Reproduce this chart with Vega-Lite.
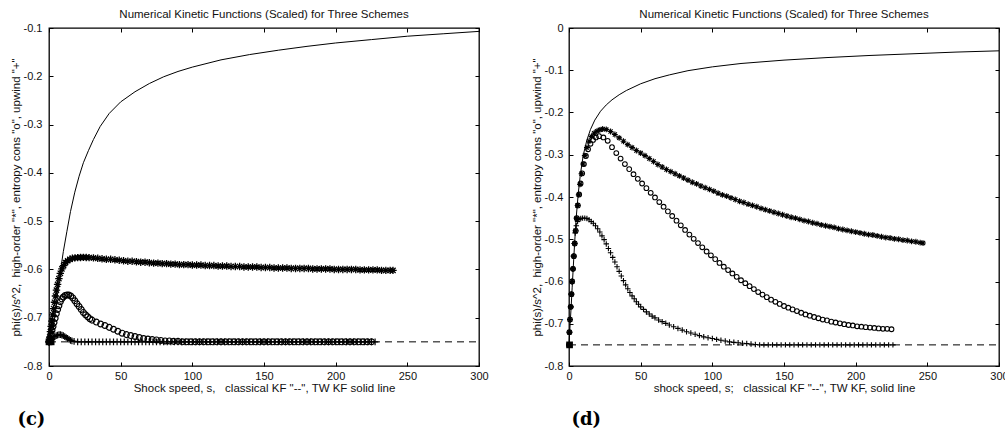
{
"$schema": "https://vega.github.io/schema/vega-lite/v6.json",
"padding": {"left": 9, "top": 7, "right": 0, "bottom": 0},
"spacing": 41,
"datasets": {
"cDash": [{"s":0,"y":-0.75},{"s":300,"y":-0.75}],
"cTw": [{"s":0,"y":-0.75},{"s":1.5,"y":-0.745},{"s":3,"y":-0.722},{"s":4.5,"y":-0.688},{"s":6,"y":-0.65},{"s":8,"y":-0.603},{"s":10,"y":-0.563},{"s":12.5,"y":-0.521},{"s":15,"y":-0.48},{"s":18,"y":-0.44},{"s":21,"y":-0.407},{"s":24,"y":-0.379},{"s":27.5,"y":-0.354},{"s":31,"y":-0.331},{"s":35.7,"y":-0.304},{"s":42,"y":-0.277},{"s":50,"y":-0.253},{"s":60,"y":-0.232},{"s":70,"y":-0.215},{"s":80,"y":-0.201},{"s":90,"y":-0.19},{"s":100,"y":-0.181},{"s":120,"y":-0.166},{"s":140,"y":-0.155},{"s":160,"y":-0.146},{"s":180,"y":-0.138},{"s":200,"y":-0.131},{"s":225,"y":-0.124},{"s":250,"y":-0.117},{"s":275,"y":-0.112},{"s":300,"y":-0.107}],
"cA": [{"s":0,"y":-0.75},{"s":0.5,"y":-0.74},{"s":1,"y":-0.729},{"s":1.5,"y":-0.718},{"s":2,"y":-0.707},{"s":2.6,"y":-0.694},{"s":3.2,"y":-0.681},{"s":3.8,"y":-0.668},{"s":4.5,"y":-0.655},{"s":5.2,"y":-0.643},{"s":6,"y":-0.631},{"s":6.9,"y":-0.619},{"s":7.9,"y":-0.608},{"s":9,"y":-0.599},{"s":10.2,"y":-0.592},{"s":11.5,"y":-0.586},{"s":13,"y":-0.582},{"s":14.6,"y":-0.579},{"s":16.3,"y":-0.577},{"s":18.1,"y":-0.576},{"s":20,"y":-0.5755},{"s":22,"y":-0.5752},{"s":24,"y":-0.575},{"s":26,"y":-0.5752},{"s":28,"y":-0.5756},
{"s":31,"y":-0.576},{"s":34,"y":-0.577},{"s":37,"y":-0.578},{"s":40,"y":-0.579},{"s":43,"y":-0.579},{"s":46,"y":-0.58},{"s":49,"y":-0.581},{"s":52,"y":-0.582},{"s":55,"y":-0.583},{"s":58,"y":-0.583},{"s":61,"y":-0.584},{"s":64,"y":-0.585},{"s":67,"y":-0.585},{"s":70,"y":-0.586},{"s":73,"y":-0.587},{"s":76,"y":-0.587},{"s":79,"y":-0.588},{"s":82,"y":-0.588},{"s":85,"y":-0.589},{"s":88,"y":-0.589},{"s":91,"y":-0.59},{"s":94,"y":-0.59},{"s":97,"y":-0.59},{"s":100,"y":-0.591},{"s":103,"y":-0.591},{"s":106,"y":-0.591},{"s":109,"y":-0.592},{"s":112,"y":-0.592},{"s":115,"y":-0.592},{"s":118,"y":-0.593},{"s":121,"y":-0.593},{"s":124,"y":-0.593},{"s":127,"y":-0.594},{"s":130,"y":-0.594},{"s":133,"y":-0.594},{"s":136,"y":-0.595},{"s":139,"y":-0.595},{"s":142,"y":-0.595},{"s":145,"y":-0.595},{"s":148,"y":-0.596},{"s":151,"y":-0.596},{"s":154,"y":-0.596},{"s":157,"y":-0.597},{"s":160,"y":-0.597},{"s":163,"y":-0.597},{"s":166,"y":-0.597},{"s":169,"y":-0.598},{"s":172,"y":-0.598},{"s":175,"y":-0.598},{"s":178,"y":-0.598},{"s":181,"y":-0.598},{"s":184,"y":-0.599},{"s":187,"y":-0.599},{"s":190,"y":-0.599},{"s":193,"y":-0.599},{"s":196,"y":-0.599},{"s":199,"y":-0.6},{"s":202,"y":-0.6},{"s":205,"y":-0.6},{"s":208,"y":-0.6},{"s":211,"y":-0.6},{"s":214,"y":-0.6},{"s":217,"y":-0.601},{"s":220,"y":-0.601},{"s":223,"y":-0.601},{"s":226,"y":-0.601},{"s":229,"y":-0.601},{"s":232,"y":-0.602},{"s":235,"y":-0.602},{"s":238,"y":-0.602},{"s":240,"y":-0.602}],
"cO": [{"s":0,"y":-0.75},{"s":0.7,"y":-0.742},{"s":1.4,"y":-0.734},{"s":2.1,"y":-0.726},{"s":2.8,"y":-0.718},{"s":3.5,"y":-0.71},{"s":4.3,"y":-0.701},{"s":5.1,"y":-0.692},{"s":6,"y":-0.683},{"s":6.9,"y":-0.675},{"s":7.9,"y":-0.667},{"s":8.9,"y":-0.661},{"s":10,"y":-0.657},{"s":11.2,"y":-0.654},{"s":12.5,"y":-0.653},{"s":13.8,"y":-0.653},{"s":15.2,"y":-0.655},{"s":16.6,"y":-0.659},{"s":18,"y":-0.665},{"s":19.5,"y":-0.671},{"s":21,"y":-0.677},{"s":22.5,"y":-0.683},{"s":24,"y":-0.689},{"s":25.5,"y":-0.694},{"s":27,"y":-0.698},{"s":28.5,"y":-0.702},{"s":30,"y":-0.705},
{"s":33,"y":-0.709},{"s":36,"y":-0.713},{"s":39,"y":-0.716},{"s":42,"y":-0.72},{"s":45,"y":-0.724},{"s":48,"y":-0.728},{"s":51,"y":-0.732},{"s":54,"y":-0.735},{"s":57,"y":-0.737},{"s":60,"y":-0.739},{"s":63,"y":-0.741},{"s":66,"y":-0.743},{"s":69,"y":-0.744},{"s":72,"y":-0.745},{"s":75,"y":-0.746},{"s":78,"y":-0.747},{"s":81,"y":-0.748},{"s":84,"y":-0.748},{"s":87,"y":-0.749},{"s":90,"y":-0.749},
{"s":93,"y":-0.75},{"s":96,"y":-0.75},{"s":99,"y":-0.75},{"s":102,"y":-0.75},{"s":105,"y":-0.75},{"s":108,"y":-0.75},{"s":111,"y":-0.75},{"s":114,"y":-0.75},{"s":117,"y":-0.75},{"s":120,"y":-0.75},{"s":123,"y":-0.75},{"s":126,"y":-0.75},{"s":129,"y":-0.75},{"s":132,"y":-0.75},{"s":135,"y":-0.75},{"s":138,"y":-0.75},{"s":141,"y":-0.75},{"s":144,"y":-0.75},{"s":147,"y":-0.75},{"s":150,"y":-0.75},{"s":153,"y":-0.75},{"s":156,"y":-0.75},{"s":159,"y":-0.75},{"s":162,"y":-0.75},{"s":165,"y":-0.75},{"s":168,"y":-0.75},{"s":171,"y":-0.75},{"s":174,"y":-0.75},{"s":177,"y":-0.75},{"s":180,"y":-0.75},{"s":183,"y":-0.75},{"s":186,"y":-0.75},{"s":189,"y":-0.75},{"s":192,"y":-0.75},{"s":195,"y":-0.75},{"s":198,"y":-0.75},{"s":201,"y":-0.75},{"s":204,"y":-0.75},{"s":207,"y":-0.75},{"s":210,"y":-0.75},{"s":213,"y":-0.75},{"s":216,"y":-0.75},{"s":219,"y":-0.75},{"s":222,"y":-0.75},{"s":225,"y":-0.75}],
"cP": [{"s":0,"y":-0.75},{"s":1,"y":-0.748},{"s":2,"y":-0.745},{"s":3,"y":-0.742},{"s":4,"y":-0.739},{"s":5,"y":-0.737},{"s":6,"y":-0.736},{"s":7,"y":-0.735},{"s":8,"y":-0.735},{"s":9,"y":-0.736},{"s":10,"y":-0.737},{"s":11,"y":-0.739},{"s":12,"y":-0.741},{"s":13,"y":-0.743},{"s":14,"y":-0.745},{"s":15,"y":-0.747},{"s":16,"y":-0.748},{"s":17.5,"y":-0.749},
{"s":20,"y":-0.75},{"s":22.5,"y":-0.75},{"s":25,"y":-0.75},{"s":27.5,"y":-0.75},{"s":30,"y":-0.75},{"s":32.5,"y":-0.75},{"s":35,"y":-0.75},{"s":37.5,"y":-0.75},{"s":40,"y":-0.75},{"s":42.5,"y":-0.75},{"s":45,"y":-0.75},{"s":47.5,"y":-0.75},{"s":50,"y":-0.75},{"s":52.5,"y":-0.75},{"s":55,"y":-0.75},{"s":57.5,"y":-0.75},{"s":60,"y":-0.75},{"s":62.5,"y":-0.75},{"s":65,"y":-0.75},{"s":67.5,"y":-0.75},{"s":70,"y":-0.75},{"s":72.5,"y":-0.75},{"s":75,"y":-0.75},{"s":77.5,"y":-0.75},{"s":80,"y":-0.75},{"s":82.5,"y":-0.75},{"s":85,"y":-0.75},{"s":87.5,"y":-0.75},{"s":90,"y":-0.75},{"s":92.5,"y":-0.75},{"s":95,"y":-0.75},{"s":97.5,"y":-0.75},{"s":100,"y":-0.75},{"s":102.5,"y":-0.75},{"s":105,"y":-0.75},{"s":107.5,"y":-0.75},{"s":110,"y":-0.75},{"s":112.5,"y":-0.75},{"s":115,"y":-0.75},{"s":117.5,"y":-0.75},{"s":120,"y":-0.75},{"s":122.5,"y":-0.75},{"s":125,"y":-0.75},{"s":127.5,"y":-0.75},{"s":130,"y":-0.75},{"s":132.5,"y":-0.75},{"s":135,"y":-0.75},{"s":137.5,"y":-0.75},{"s":140,"y":-0.75},{"s":142.5,"y":-0.75},{"s":145,"y":-0.75},{"s":147.5,"y":-0.75},{"s":150,"y":-0.75},{"s":152.5,"y":-0.75},{"s":155,"y":-0.75},{"s":157.5,"y":-0.75},{"s":160,"y":-0.75},{"s":162.5,"y":-0.75},{"s":165,"y":-0.75},{"s":167.5,"y":-0.75},{"s":170,"y":-0.75},{"s":172.5,"y":-0.75},{"s":175,"y":-0.75},{"s":177.5,"y":-0.75},{"s":180,"y":-0.75},{"s":182.5,"y":-0.75},{"s":185,"y":-0.75},{"s":187.5,"y":-0.75},{"s":190,"y":-0.75},{"s":192.5,"y":-0.75},{"s":195,"y":-0.75},{"s":197.5,"y":-0.75},{"s":200,"y":-0.75},{"s":202.5,"y":-0.75},{"s":205,"y":-0.75},{"s":207.5,"y":-0.75},{"s":210,"y":-0.75},{"s":212.5,"y":-0.75},{"s":215,"y":-0.75},{"s":217.5,"y":-0.75},{"s":220,"y":-0.75},{"s":222.5,"y":-0.75},{"s":225,"y":-0.75},{"s":227.5,"y":-0.75}],
"cQ": [{"s":0,"y":-0.75},{"s":1.5,"y":-0.75}],
"dDash": [{"s":0,"y":-0.75},{"s":300,"y":-0.75}],
"dTw": [{"s":0,"y":-0.75},{"s":0.8,"y":-0.7},{"s":1.5,"y":-0.66},{"s":2.2,"y":-0.615},{"s":3,"y":-0.565},{"s":4,"y":-0.505},{"s":5,"y":-0.45},{"s":6.5,"y":-0.39},{"s":8,"y":-0.345},{"s":10,"y":-0.3},{"s":12.5,"y":-0.265},{"s":15,"y":-0.24},{"s":18,"y":-0.218},{"s":22,"y":-0.197},{"s":26,"y":-0.182},{"s":30,"y":-0.17},{"s":35,"y":-0.158},{"s":40,"y":-0.148},{"s":50,"y":-0.132},{"s":60,"y":-0.12},{"s":70,"y":-0.111},{"s":83,"y":-0.101},{"s":100,"y":-0.092},{"s":120,"y":-0.084},{"s":150,"y":-0.076},{"s":180,"y":-0.07},{"s":210,"y":-0.065},{"s":240,"y":-0.061},{"s":270,"y":-0.057},{"s":300,"y":-0.054}],
"dA": [{"s":0,"y":-0.75},{"s":0.3,"y":-0.72},{"s":0.7,"y":-0.69},{"s":1.2,"y":-0.66},{"s":1.7,"y":-0.63},{"s":2.2,"y":-0.6},{"s":2.8,"y":-0.57},{"s":3.4,"y":-0.54},{"s":4,"y":-0.51},{"s":4.6,"y":-0.48},{"s":5.3,"y":-0.45},{"s":6,"y":-0.42},{"s":6.8,"y":-0.395},{"s":7.7,"y":-0.37},{"s":8.7,"y":-0.345},{"s":9.8,"y":-0.322},{"s":11,"y":-0.302},{"s":12.5,"y":-0.283},{"s":14,"y":-0.268},{"s":15.7,"y":-0.257},{"s":17.5,"y":-0.249},{"s":19.5,"y":-0.244},{"s":21.5,"y":-0.241},{"s":23.5,"y":-0.239},
{"s":26,"y":-0.24},{"s":29,"y":-0.245},{"s":32,"y":-0.252},{"s":35,"y":-0.26},{"s":38,"y":-0.268},{"s":41,"y":-0.276},{"s":44,"y":-0.283},{"s":47,"y":-0.29},{"s":50,"y":-0.296},{"s":53,"y":-0.302},{"s":56,"y":-0.309},{"s":59,"y":-0.316},{"s":62,"y":-0.323},{"s":65,"y":-0.329},{"s":68,"y":-0.335},{"s":71,"y":-0.34},{"s":74,"y":-0.345},{"s":77,"y":-0.35},{"s":80,"y":-0.355},{"s":83,"y":-0.36},{"s":86,"y":-0.365},{"s":89,"y":-0.369},{"s":92,"y":-0.374},{"s":95,"y":-0.378},{"s":98,"y":-0.382},{"s":101,"y":-0.386},{"s":104,"y":-0.391},{"s":107,"y":-0.395},{"s":110,"y":-0.398},{"s":113,"y":-0.402},{"s":116,"y":-0.406},{"s":119,"y":-0.41},{"s":122,"y":-0.413},{"s":125,"y":-0.417},{"s":128,"y":-0.42},{"s":131,"y":-0.423},{"s":134,"y":-0.427},{"s":137,"y":-0.43},{"s":140,"y":-0.433},{"s":143,"y":-0.436},{"s":146,"y":-0.439},{"s":149,"y":-0.442},{"s":152,"y":-0.445},{"s":155,"y":-0.448},{"s":158,"y":-0.45},{"s":161,"y":-0.453},{"s":164,"y":-0.456},{"s":167,"y":-0.458},{"s":170,"y":-0.461},{"s":173,"y":-0.463},{"s":176,"y":-0.466},{"s":179,"y":-0.468},{"s":182,"y":-0.47},{"s":185,"y":-0.472},{"s":188,"y":-0.475},{"s":191,"y":-0.477},{"s":194,"y":-0.479},{"s":197,"y":-0.481},{"s":200,"y":-0.483},{"s":203,"y":-0.485},{"s":206,"y":-0.487},{"s":209,"y":-0.489},{"s":212,"y":-0.49},{"s":215,"y":-0.492},{"s":218,"y":-0.494},{"s":221,"y":-0.496},{"s":224,"y":-0.497},{"s":227,"y":-0.499},{"s":230,"y":-0.5},{"s":233,"y":-0.502},{"s":236,"y":-0.503},{"s":239,"y":-0.505},{"s":242,"y":-0.506},{"s":245,"y":-0.508},{"s":247,"y":-0.509}],
"dO": [{"s":0,"y":-0.75},{"s":0.3,"y":-0.72},{"s":0.7,"y":-0.69},{"s":1.2,"y":-0.66},{"s":1.7,"y":-0.63},{"s":2.2,"y":-0.6},{"s":2.8,"y":-0.57},{"s":3.4,"y":-0.54},{"s":4,"y":-0.51},{"s":4.7,"y":-0.48},{"s":5.4,"y":-0.45},{"s":6.2,"y":-0.42},{"s":7.1,"y":-0.394},{"s":8.1,"y":-0.368},{"s":9.2,"y":-0.344},{"s":10.4,"y":-0.322},{"s":11.8,"y":-0.303},{"s":13.3,"y":-0.287},{"s":15,"y":-0.274},{"s":16.8,"y":-0.265},{"s":18.8,"y":-0.259},{"s":21,"y":-0.256},
{"s":24,"y":-0.259},{"s":27,"y":-0.267},{"s":30,"y":-0.282},{"s":33,"y":-0.296},{"s":36,"y":-0.309},{"s":39,"y":-0.322},{"s":42,"y":-0.334},{"s":45,"y":-0.346},{"s":48,"y":-0.357},{"s":51,"y":-0.368},{"s":54,"y":-0.379},{"s":57,"y":-0.39},{"s":60,"y":-0.401},{"s":63,"y":-0.412},{"s":66,"y":-0.423},{"s":69,"y":-0.434},{"s":72,"y":-0.445},{"s":75,"y":-0.456},{"s":78,"y":-0.467},{"s":81,"y":-0.478},{"s":84,"y":-0.489},{"s":87,"y":-0.499},{"s":90,"y":-0.509},{"s":93,"y":-0.519},{"s":96,"y":-0.529},{"s":99,"y":-0.538},{"s":102,"y":-0.547},{"s":105,"y":-0.556},{"s":108,"y":-0.565},{"s":111,"y":-0.573},{"s":114,"y":-0.581},{"s":117,"y":-0.589},{"s":120,"y":-0.597},{"s":123,"y":-0.604},{"s":126,"y":-0.611},{"s":129,"y":-0.618},{"s":132,"y":-0.625},{"s":135,"y":-0.631},{"s":138,"y":-0.637},{"s":141,"y":-0.643},{"s":144,"y":-0.648},{"s":147,"y":-0.653},{"s":150,"y":-0.658},{"s":153,"y":-0.662},{"s":156,"y":-0.666},{"s":159,"y":-0.67},{"s":162,"y":-0.674},{"s":165,"y":-0.678},{"s":168,"y":-0.681},{"s":171,"y":-0.684},{"s":174,"y":-0.687},{"s":177,"y":-0.69},{"s":180,"y":-0.692},{"s":183,"y":-0.695},{"s":186,"y":-0.697},{"s":189,"y":-0.699},{"s":192,"y":-0.701},{"s":195,"y":-0.703},{"s":198,"y":-0.704},{"s":201,"y":-0.706},{"s":204,"y":-0.707},{"s":207,"y":-0.708},{"s":210,"y":-0.709},{"s":213,"y":-0.71},{"s":216,"y":-0.711},{"s":219,"y":-0.712},{"s":222,"y":-0.712},{"s":225,"y":-0.713}],
"dP": [{"s":0,"y":-0.75},{"s":0.4,"y":-0.72},{"s":0.8,"y":-0.69},{"s":1.2,"y":-0.66},{"s":1.6,"y":-0.63},{"s":2,"y":-0.6},{"s":2.5,"y":-0.57},{"s":3,"y":-0.54},{"s":3.6,"y":-0.51},{"s":4.3,"y":-0.485},{"s":5.1,"y":-0.468},{"s":6,"y":-0.458},{"s":7,"y":-0.453},{"s":8.2,"y":-0.451},{"s":9.5,"y":-0.45},{"s":11,"y":-0.45},{"s":12.5,"y":-0.451},{"s":14,"y":-0.454},{"s":15.5,"y":-0.458},{"s":17,"y":-0.462},{"s":18.5,"y":-0.468},{"s":20,"y":-0.475},{"s":21.5,"y":-0.483},{"s":23,"y":-0.492},{"s":24.5,"y":-0.501},{"s":26,"y":-0.511},{"s":27.5,"y":-0.522},{"s":29,"y":-0.532},{"s":30.5,"y":-0.543},{"s":32,"y":-0.554},{"s":33.5,"y":-0.565},{"s":35,"y":-0.576},{"s":36.5,"y":-0.587},{"s":38,"y":-0.598},{"s":39.5,"y":-0.608},{"s":41,"y":-0.617},{"s":42.5,"y":-0.626},{"s":44,"y":-0.634},{"s":45.5,"y":-0.641},{"s":47,"y":-0.648},{"s":48.5,"y":-0.654},{"s":50,"y":-0.66},{"s":52,"y":-0.666},{"s":54,"y":-0.672},{"s":56,"y":-0.677},{"s":58,"y":-0.682},{"s":60,"y":-0.686},{"s":62.5,"y":-0.691},{"s":65,"y":-0.695},{"s":67.5,"y":-0.699},{"s":70,"y":-0.703},{"s":73,"y":-0.707},{"s":76,"y":-0.711},{"s":79,"y":-0.715},{"s":82,"y":-0.719},{"s":85,"y":-0.722},{"s":88,"y":-0.725},{"s":91,"y":-0.728},{"s":94,"y":-0.731},{"s":97,"y":-0.733},{"s":100,"y":-0.735},{"s":103,"y":-0.737},{"s":106,"y":-0.739},{"s":109,"y":-0.741},{"s":112,"y":-0.743},{"s":115,"y":-0.744},{"s":118,"y":-0.745},{"s":121,"y":-0.746},{"s":124,"y":-0.747},{"s":127,"y":-0.748},{"s":130,"y":-0.749},{"s":133,"y":-0.75},
{"s":136,"y":-0.75},{"s":139,"y":-0.75},{"s":142,"y":-0.75},{"s":145,"y":-0.75},{"s":148,"y":-0.75},{"s":151,"y":-0.75},{"s":154,"y":-0.75},{"s":157,"y":-0.75},{"s":160,"y":-0.75},{"s":163,"y":-0.75},{"s":166,"y":-0.75},{"s":169,"y":-0.75},{"s":172,"y":-0.75},{"s":175,"y":-0.75},{"s":178,"y":-0.75},{"s":181,"y":-0.75},{"s":184,"y":-0.75},{"s":187,"y":-0.75},{"s":190,"y":-0.75},{"s":193,"y":-0.75},{"s":196,"y":-0.75},{"s":199,"y":-0.75},{"s":202,"y":-0.75},{"s":205,"y":-0.75},{"s":208,"y":-0.75},{"s":211,"y":-0.75},{"s":214,"y":-0.75},{"s":217,"y":-0.75},{"s":220,"y":-0.75},{"s":223,"y":-0.75},{"s":226,"y":-0.75}],
"dQ": [{"s":0.4,"y":-0.75}]
},
"hconcat": [
{
"title": {"text": "(c)", "orient": "bottom", "anchor": "start", "frame": "bounds", "dx": 8, "offset": 17, "font": "DejaVu Serif", "fontWeight": "bold", "fontSize": 18, "color": "black"},
"vconcat": [{
"title": {"text": "Numerical Kinetic Functions (Scaled) for Three Schemes", "offset": 2},
"width": 430, "height": 338,
"layer": [
{"data": {"name": "cDash"}, "mark": {"type": "line", "color": "black", "strokeWidth": 1, "strokeDash": [7, 5]},
 "encoding": {
  "x": {"field": "s", "type": "quantitative", "scale": {"domain": [0, 300], "nice": false}, "axis": {"values": [0,50,100,150,200,250,300], "title": "Shock speed, s,\u00a0\u00a0 classical KF \"--\", TW KF solid line", "labelFlush": false, "labelPadding": 8, "titlePadding": 1}},
  "y": {"field": "y", "type": "quantitative", "scale": {"domain": [-0.8, -0.1], "nice": false, "zero": false}, "axis": {"values": [-0.8,-0.7,-0.6,-0.5,-0.4,-0.3,-0.2,-0.1], "title": "phi(s)/s^2,\u00a0 high-order \"*\", entropy cons \"o\", upwind \"+\"", "labelExpr": "replace(format(datum.value, '~g'), '\u2212', '-')", "labelPadding": 11, "titlePadding": 2}}}},
{"data": {"name": "cTw"}, "mark": {"type": "line", "color": "black", "strokeWidth": 1},
 "encoding": {"x": {"field": "s", "type": "quantitative", "scale": {"domain": [0, 300], "nice": false}, "axis": null}, "y": {"field": "y", "type": "quantitative", "scale": {"domain": [-0.8, -0.1], "nice": false, "zero": false}, "axis": null}}},
{"data": {"name": "cP"}, "mark": {"type": "point", "shape": "M-1,0L1,0M0,-1L0,1", "filled": false, "stroke": "black", "strokeWidth": 1.2, "size": 45, "opacity": 1},
 "encoding": {"x": {"field": "s", "type": "quantitative", "scale": {"domain": [0, 300], "nice": false}, "axis": null}, "y": {"field": "y", "type": "quantitative", "scale": {"domain": [-0.8, -0.1], "nice": false, "zero": false}, "axis": null}}},
{"data": {"name": "cO"}, "mark": {"type": "point", "shape": "circle", "filled": false, "stroke": "black", "strokeWidth": 1.2, "size": 34, "opacity": 1},
 "encoding": {"x": {"field": "s", "type": "quantitative", "scale": {"domain": [0, 300], "nice": false}, "axis": null}, "y": {"field": "y", "type": "quantitative", "scale": {"domain": [-0.8, -0.1], "nice": false, "zero": false}, "axis": null}}},
{"data": {"name": "cA"}, "mark": {"type": "point", "shape": "M-1,0L1,0M0,-1L0,1M-0.71,-0.71L0.71,0.71M-0.71,0.71L0.71,-0.71", "filled": false, "stroke": "black", "strokeWidth": 1.3, "size": 55, "opacity": 1},
 "encoding": {"x": {"field": "s", "type": "quantitative", "scale": {"domain": [0, 300], "nice": false}, "axis": null}, "y": {"field": "y", "type": "quantitative", "scale": {"domain": [-0.8, -0.1], "nice": false, "zero": false}, "axis": null}}},
{"data": {"name": "cQ"}, "mark": {"type": "point", "shape": "square", "filled": true, "color": "black", "size": 45, "opacity": 1},
 "encoding": {
  "x": {"field": "s", "type": "quantitative", "scale": {"domain": [0, 300], "nice": false}, "axis": {"orient": "top", "values": [0,50,100,150,200,250,300], "labels": false, "title": null}},
  "y": {"field": "y", "type": "quantitative", "scale": {"domain": [-0.8, -0.1], "nice": false, "zero": false}, "axis": {"orient": "right", "values": [-0.8,-0.7,-0.6,-0.5,-0.4,-0.3,-0.2,-0.1], "labels": false, "title": null}}}}
],
"resolve": {"axis": {"x": "independent", "y": "independent"}}
}]
},
{
"title": {"text": "(d)", "orient": "bottom", "anchor": "start", "frame": "bounds", "dx": 41, "offset": 17, "font": "DejaVu Serif", "fontWeight": "bold", "fontSize": 18, "color": "black"},
"vconcat": [{
"title": {"text": "Numerical Kinetic Functions (Scaled) for Three Schemes", "offset": 2},
"width": 430, "height": 338,
"layer": [
{"data": {"name": "dDash"}, "mark": {"type": "line", "color": "black", "strokeWidth": 1, "strokeDash": [7, 5]},
 "encoding": {
  "x": {"field": "s", "type": "quantitative", "scale": {"domain": [0, 300], "nice": false}, "axis": {"values": [0,50,100,150,200,250,300], "title": "shock speed, s;\u00a0\u00a0 classical KF \"--\", TW KF, solid line", "labelFlush": false, "labelPadding": 8, "titlePadding": 1}},
  "y": {"field": "y", "type": "quantitative", "scale": {"domain": [-0.8, 0], "nice": false, "zero": false}, "axis": {"values": [-0.8,-0.7,-0.6,-0.5,-0.4,-0.3,-0.2,-0.1,0], "title": "phi(s)/s^2,\u00a0 high-order \"*\", entropy cons \"o\", upwind \"+\"", "labelExpr": "replace(format(datum.value, '~g'), '\u2212', '-')", "labelPadding": 10, "titlePadding": 2}}}},
{"data": {"name": "dTw"}, "mark": {"type": "line", "color": "black", "strokeWidth": 1},
 "encoding": {"x": {"field": "s", "type": "quantitative", "scale": {"domain": [0, 300], "nice": false}, "axis": null}, "y": {"field": "y", "type": "quantitative", "scale": {"domain": [-0.8, 0], "nice": false, "zero": false}, "axis": null}}},
{"data": {"name": "dP"}, "mark": {"type": "point", "shape": "M-1,0L1,0M0,-1L0,1", "filled": false, "stroke": "black", "strokeWidth": 1.1, "size": 30, "opacity": 1},
 "encoding": {"x": {"field": "s", "type": "quantitative", "scale": {"domain": [0, 300], "nice": false}, "axis": null}, "y": {"field": "y", "type": "quantitative", "scale": {"domain": [-0.8, 0], "nice": false, "zero": false}, "axis": null}}},
{"data": {"name": "dO"}, "mark": {"type": "point", "shape": "circle", "filled": false, "stroke": "black", "strokeWidth": 1.1, "size": 22, "opacity": 1},
 "encoding": {"x": {"field": "s", "type": "quantitative", "scale": {"domain": [0, 300], "nice": false}, "axis": null}, "y": {"field": "y", "type": "quantitative", "scale": {"domain": [-0.8, 0], "nice": false, "zero": false}, "axis": null}}},
{"data": {"name": "dA"}, "mark": {"type": "point", "shape": "M-1,0L1,0M0,-1L0,1M-0.71,-0.71L0.71,0.71M-0.71,0.71L0.71,-0.71", "filled": false, "stroke": "black", "strokeWidth": 1.1, "size": 34, "opacity": 1},
 "encoding": {"x": {"field": "s", "type": "quantitative", "scale": {"domain": [0, 300], "nice": false}, "axis": null}, "y": {"field": "y", "type": "quantitative", "scale": {"domain": [-0.8, 0], "nice": false, "zero": false}, "axis": null}}},
{"data": {"name": "dQ"}, "mark": {"type": "point", "shape": "square", "filled": true, "color": "black", "size": 45, "opacity": 1},
 "encoding": {
  "x": {"field": "s", "type": "quantitative", "scale": {"domain": [0, 300], "nice": false}, "axis": {"orient": "top", "values": [0,50,100,150,200,250,300], "labels": false, "title": null}},
  "y": {"field": "y", "type": "quantitative", "scale": {"domain": [-0.8, 0], "nice": false, "zero": false}, "axis": {"orient": "right", "values": [-0.8,-0.7,-0.6,-0.5,-0.4,-0.3,-0.2,-0.1,0], "labels": false, "title": null}}}}
],
"resolve": {"axis": {"x": "independent", "y": "independent"}}
}]
}
],
"config": {
 "font": "Liberation Sans",
 "background": "white",
 "view": {"stroke": "black", "strokeWidth": 1.3},
 "axis": {"grid": false, "domain": false, "tickSize": -4, "tickColor": "black", "tickWidth": 1, "labelFont": "Liberation Sans", "labelFontSize": 11, "labelColor": "#111", "titleFont": "Liberation Sans", "titleFontSize": 11.5, "titleFontWeight": "normal", "titleColor": "#111"},
 "title": {"font": "Liberation Sans", "fontSize": 11.5, "fontWeight": "normal", "color": "#111"}
}
}
